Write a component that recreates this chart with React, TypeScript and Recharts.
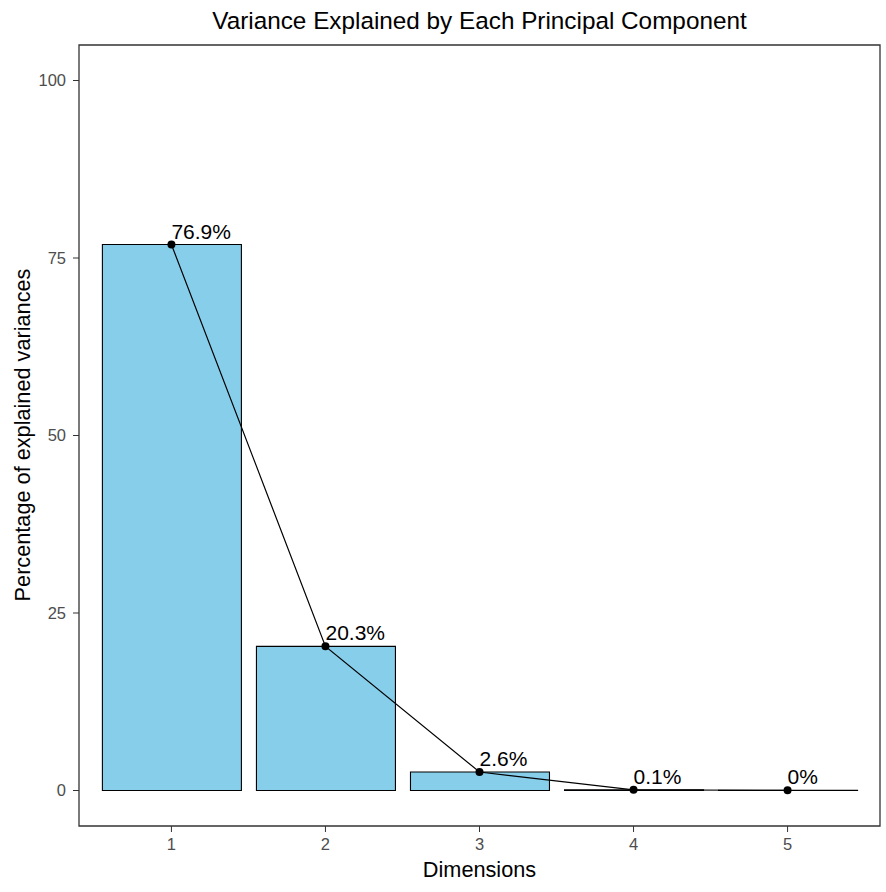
import React from 'react';
import { ComposedChart, Bar, Line, XAxis, YAxis, ReferenceArea, LabelList } from 'recharts';

// percentage of variance per principal component
const dimensions = [1, 2, 3, 4, 5];
const variances = [76.9, 20.3, 2.6, 0.1, 0.02];
const yTicks = [0, 25, 50, 75, 100];

const data = dimensions.map((d, i) => ({ dim: d, value: variances[i] }));

const FONT = '"Liberation Sans", Arial, sans-serif';

const fmt = (v: number) => `${parseFloat(v.toFixed(1))}%`;

const PointLabel = (props: any) => {
  const { x, y, value } = props;
  return (
    <text x={x} y={y - 6} textAnchor="start" fontSize={21} fontFamily={FONT} fill="#000">
      {fmt(value)}
    </text>
  );
};

export default function App() {
  return (
    <div style={{ position: 'absolute', left: 0, top: 0, width: 886, height: 892, background: '#fff', fontFamily: FONT }}>
      <div
        style={{
          position: 'absolute',
          left: 79,
          width: 801,
          top: 9,
          textAlign: 'center',
          fontSize: 24.3,
          lineHeight: 1,
          color: '#000',
        }}
      >
        Variance Explained by Each Principal Component
      </div>
      <ComposedChart width={886} height={892} data={data} margin={{ top: 45, right: 6, bottom: 0, left: 0 }}>
        <XAxis
          dataKey="dim"
          type="number"
          domain={[0.4, 5.6]}
          ticks={dimensions}
          allowDataOverflow
          height={66}
          axisLine={false}
          tickSize={6}
          tickMargin={6}
          tickLine={{ stroke: '#333' }}
          tick={{ fill: '#4d4d4d', fontSize: 16.5, fontFamily: FONT }}
          label={{
            content: () => (
              <text x={479.5} y={877} textAnchor="middle" fontSize={21.7} fontFamily={FONT} fill="#000">
                Dimensions
              </text>
            ),
          }}
        />
        <YAxis
          type="number"
          domain={[-5, 105]}
          ticks={yTicks}
          allowDataOverflow
          width={79}
          axisLine={false}
          tickSize={6}
          tickMargin={7}
          tickLine={{ stroke: '#333' }}
          tick={{ fill: '#4d4d4d', fontSize: 16.5, fontFamily: FONT }}
          label={{
            content: () => (
              <text
                x={22}
                y={435}
                transform="rotate(-90 22 435)"
                textAnchor="middle"
                dominantBaseline="central"
                fontSize={21.7}
                fontFamily={FONT}
                fill="#000"
              >
                Percentage of explained variances
              </text>
            ),
          }}
        />
        <Bar dataKey="value" barSize={139} fill="#87CEEB" stroke="#000" strokeWidth={1.1} isAnimationActive={false} />
        <Line
          dataKey="value"
          type="linear"
          stroke="#000"
          strokeWidth={1.2}
          dot={{ r: 4, fill: '#000', stroke: '#000', strokeWidth: 0 }}
          activeDot={false}
          isAnimationActive={false}
        >
          <LabelList dataKey="value" content={PointLabel} />
        </Line>
        <ReferenceArea x1={0.4} x2={5.6} y1={-5} y2={105} fill="none" stroke="#333" strokeWidth={1.3} ifOverflow="visible" />
      </ComposedChart>
    </div>
  );
}
